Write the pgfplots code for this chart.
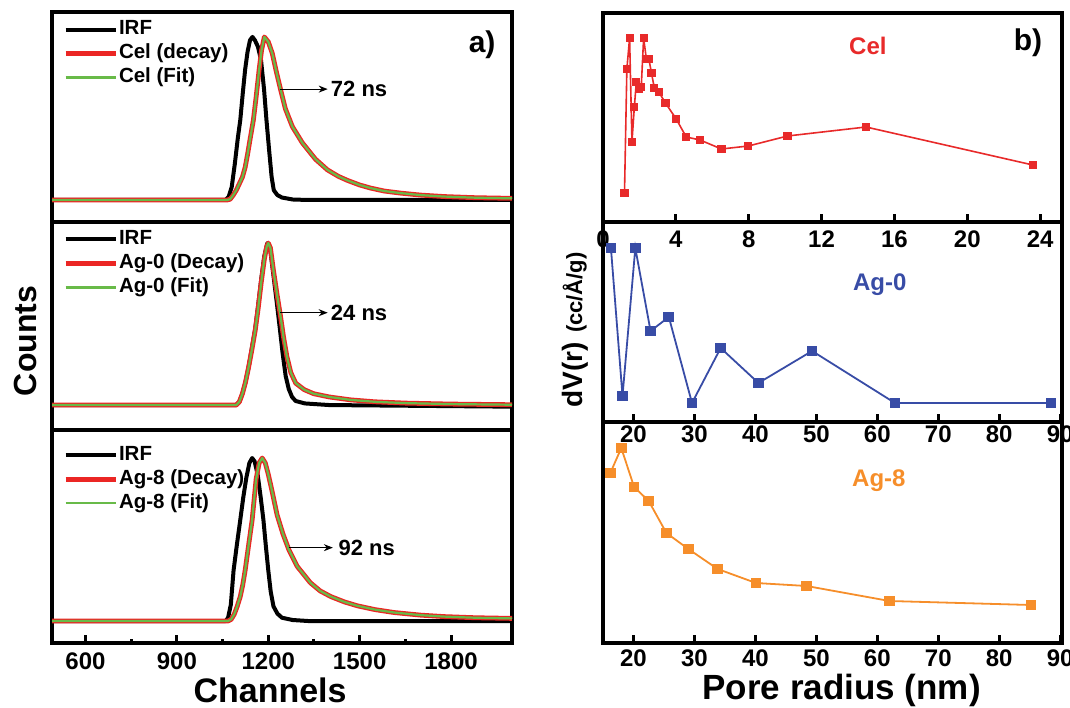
\documentclass[border=0pt]{standalone}
\usepackage{fontspec}
\setmainfont{Liberation Sans}
\usepackage{pgfplots}
\usepackage{pgfplotstable}
\pgfplotsset{compat=1.18}
\usetikzlibrary{arrows.meta}

\definecolor{decayred}{RGB}{235,38,36}
\definecolor{fitgreen}{RGB}{104,186,72}
\definecolor{celred}{RGB}{232,42,42}
\definecolor{agblue}{RGB}{56,76,166}
\definecolor{agorange}{RGB}{246,142,42}

% decay curves, counts normalised to the peak
\pgfplotstableread{
ch y
490 0
1060 0
1070 0.02
1080 0.08
1090 0.22
1100 0.38
1108 0.49
1116 0.65
1124 0.80
1132 0.91
1140 0.98
1148 1.00
1156 0.98
1166 0.94
1176 0.86
1186 0.68
1194 0.49
1203 0.30
1211 0.14
1218 0.06
1230 0.03
1245 0.015
1280 0.003
1330 0
2000 0
}\irfcel

\pgfplotstableread{
ch y
490 0
1065 0
1075 0.005
1085 0.03
1095 0.06
1105 0.10
1115 0.14
1124 0.20
1132 0.28
1140 0.37
1151 0.49
1160 0.63
1170 0.80
1178 0.92
1187 1.00
1200 0.97
1213 0.90
1226 0.79
1240 0.68
1256 0.56
1279 0.45
1312 0.35
1355 0.25
1394 0.185
1430 0.145
1460 0.12
1500 0.092
1536 0.073
1580 0.055
1635 0.042
1700 0.03
1777 0.021
1880 0.014
2000 0.01
}\decaycel

\pgfplotstableread{
ch y
490 0
1095 0
1105 0.02
1115 0.07
1125 0.14
1135 0.23
1145 0.34
1157 0.47
1167 0.62
1177 0.78
1187 0.92
1197 1.00
1207 0.95
1217 0.80
1228 0.63
1238 0.47
1247 0.32
1257 0.18
1267 0.10
1278 0.05
1290 0.025
1320 0.01
1400 0
2000 -0.01
}\irfagzero

\pgfplotstableread{
ch y
490 0
1095 0
1105 0.02
1115 0.07
1125 0.14
1135 0.23
1145 0.33
1157 0.46
1167 0.60
1177 0.76
1187 0.90
1195 0.98
1200 1.00
1207 0.97
1217 0.83
1229 0.68
1240 0.55
1250 0.42
1261 0.30
1274 0.20
1290 0.135
1318 0.095
1349 0.07
1400 0.05
1470 0.032
1550 0.02
1650 0.012
1800 0.006
2000 0.002
}\decayagzero

\pgfplotstableread{
ch y
490 0
1060 0
1068 0.02
1077 0.10
1086 0.31
1097 0.47
1108 0.62
1118 0.76
1128 0.88
1138 0.97
1147 1.00
1155 0.98
1165 0.90
1175 0.76
1184 0.62
1192 0.46
1200 0.31
1208 0.18
1217 0.09
1230 0.045
1245 0.02
1280 0.006
1330 0
2000 0
}\irfageight

\pgfplotstableread{
ch y
490 0
1068 0
1078 0.01
1088 0.04
1098 0.09
1108 0.15
1116 0.22
1124 0.31
1135 0.46
1147 0.62
1160 0.87
1170 0.97
1180 1.00
1190 0.97
1200 0.90
1212 0.80
1229 0.65
1248 0.535
1267 0.44
1295 0.335
1338 0.235
1370 0.185
1405 0.15
1450 0.117
1493 0.093
1550 0.07
1613 0.052
1700 0.036
1777 0.027
1880 0.02
2000 0.016
}\decayageight

\tikzset{
  ann/.style={font=\bfseries\fontsize{22}{22}\selectfont, anchor=west, inner sep=0pt},
  arr/.style={-{Stealth[length=9pt,width=7pt]}, line width=1.2pt},
  tag/.style={font=\bfseries\fontsize{30}{30}\selectfont},
  sample/.style={font=\bfseries\fontsize{24}{24}\selectfont},
}

\pgfplotsset{
  panel/.style={
    scale only axis,
    anchor=south west,
    axis line style={line width=3.8pt},
    ytick=\empty,
    xtick pos=left,
    tick align=inside,
    tick style={line width=3pt,black},
    major tick length=8pt,
    minor tick length=4pt,
    xticklabel style={font=\bfseries\fontsize{24}{24}\selectfont, inner sep=1pt},
    /pgf/number format/assume math mode=true,
    /pgf/number format/1000 sep={},
    label style={font=\bfseries\fontsize{34}{34}\selectfont, inner sep=0pt},
  },
  leftpanel/.style={
    panel,
    width=460pt,
    xmin=490, xmax=2000,
    legend cell align=left,
    legend style={at={(axis description cs:0.024,0.965)}, anchor=north west,
      draw=none, fill=none, inner sep=0pt, row sep=4pt,
      font=\bfseries\fontsize{20.5}{22}\selectfont,
      nodes={inner sep=1pt, text height=14pt, text depth=4pt}},
    legend image code/.code={\draw[##1] (0pt,0pt) -- (50pt,0pt);},
  },
  rightpanel/.style={
    panel,
    width=459pt,
  },
  irf/.style={black, line width=4pt, line join=round},
  decay/.style={decayred, line width=4.8pt, line join=round},
  fit/.style={fitgreen, line width=2.2pt, line join=round},
}

\begin{document}
\begin{tikzpicture}[x=1pt,y=1pt]
\useasboundingbox (0,0) rectangle (1070,707);

% ---- a) top: Cel
\begin{axis}[leftpanel, at={(52pt,485pt)}, height=210pt,
  ymin=-0.135, ymax=1.153, xtick=\empty]
\addplot[irf] table[x=ch,y=y] {\irfcel};
\addlegendentry{IRF}
\addplot[decay] table[x=ch,y=y] {\decaycel};
\addlegendentry{Cel (decay)}
\addplot[fit] table[x=ch,y=y] {\decaycel};
\addlegendentry{Cel (Fit)}
\draw[arr] (axis cs:1240,0.68) -- (axis cs:1395,0.68);
\node[ann] at (axis cs:1405,0.68) {72 ns};
\node[tag] at (axis description cs:0.935,0.843) {a)};
\end{axis}

% ---- a) middle: Ag-0
\begin{axis}[leftpanel, at={(52pt,277pt)}, height=208pt,
  ymin=-0.154, ymax=1.13, xtick=\empty,
  ylabel={Counts},
  ylabel style={at={(axis description cs:-0.0587,0.428)}, anchor=center,
    font=\bfseries\fontsize{32}{32}\selectfont}]
\addplot[irf] table[x=ch,y=y] {\irfagzero};
\addlegendentry{IRF}
\addplot[decay] table[x=ch,y=y] {\decayagzero};
\addlegendentry{Ag-0 (Decay)}
\addplot[fit] table[x=ch,y=y] {\decayagzero};
\addlegendentry{Ag-0 (Fit)}
\draw[arr] (axis cs:1240,0.57) -- (axis cs:1395,0.57);
\node[ann] at (axis cs:1405,0.57) {24 ns};
\end{axis}

% ---- a) bottom: Ag-8
\begin{axis}[leftpanel, at={(52pt,64pt)}, height=213pt,
  ymin=-0.135, ymax=1.172,
  legend style={at={(axis description cs:0.024,0.93)}},
  xtick={600,900,1200,1500,1800}, minor x tick num=1,
  xticklabel style={yshift=-8.5pt},
  xlabel={Channels},
  xlabel style={at={(axis description cs:0.474,0)}, anchor=center, yshift=-47pt}]
\addplot[irf] table[x=ch,y=y] {\irfageight};
\addlegendentry{IRF}
\addplot[decay] table[x=ch,y=y] {\decayageight};
\addlegendentry{Ag-8 (Decay)}
\addplot[fit] table[x=ch,y=y] {\decayageight};
\addlegendentry{Ag-8 (Fit)}
\draw[arr] (axis cs:1267,0.45) -- (axis cs:1412,0.45);
\node[ann] at (axis cs:1430,0.45) {92 ns};
\end{axis}

% ---- b) top: Cel
\begin{axis}[rightpanel, at={(603pt,485pt)}, height=209pt,
  xmin=0, xmax=25.2, ymin=0, ymax=209,
  xtick={0,4,...,24}, xticklabel style={yshift=-7.5pt}]
\addplot[celred, line width=1.6pt, mark=square*, mark size=3.3pt] coordinates {
(1.18,29) (1.31,153) (1.46,184) (1.59,80) (1.72,115) (1.83,140) (1.96,133)
(2.10,135) (2.23,184) (2.38,163) (2.52,163) (2.66,149) (2.82,134) (3.06,130)
(3.43,119) (4.02,103) (4.57,85) (5.33,82) (6.50,73) (7.98,76) (10.13,86)
(14.44,95) (23.60,57)};
\node[sample, text=celred] at (axis description cs:0.577,0.842) {Cel};
\node[tag] at (axis description cs:0.926,0.856) {b)};
\end{axis}

% ---- b) middle: Ag-0
\begin{axis}[rightpanel, at={(603pt,285pt)}, height=200pt,
  xmin=15, xmax=90.3, ymin=0, ymax=200,
  xtick={20,30,...,90}, xticklabel style={yshift=-2.5pt},
  ylabel={{\fontsize{28}{28}\selectfont dV(r)} {\fontsize{22}{22}\selectfont (cc/Å/g)}},
  ylabel style={at={(axis description cs:-0.061,0.46)}, anchor=center}]
\addplot[agblue, line width=1.8pt, mark=square*, mark size=4.5pt] coordinates {
(16.3,174) (18.2,26) (20.3,174) (22.8,91) (25.8,105) (29.6,19) (34.3,74)
(40.5,39) (49.3,71) (62.9,19) (88.5,19)};
\node[sample, text=agblue] at (axis description cs:0.603,0.685) {Ag-0};
\end{axis}

% ---- b) bottom: Ag-8
\begin{axis}[rightpanel, at={(603pt,64pt)}, height=221pt,
  xmin=15, xmax=90.3, ymin=0, ymax=221,
  xtick={20,30,...,90}, xticklabel style={yshift=-5.5pt},
  xlabel={Pore radius (nm)},
  xlabel style={at={(axis description cs:0.52,0)}, anchor=center, yshift=-47pt,
    font=\bfseries\fontsize{35}{35}\selectfont}]
\addplot[agorange, line width=1.8pt, mark=square*, mark size=4.5pt] coordinates {
(16.2,170) (18.0,195) (20.1,156) (22.5,142) (25.4,110) (29.0,94) (33.8,74)
(40.1,60) (48.4,57) (62.0,42) (85.2,38)};
\node[sample, text=agorange] at (axis description cs:0.601,0.733) {Ag-8};
\end{axis}
\end{tikzpicture}
\end{document}
